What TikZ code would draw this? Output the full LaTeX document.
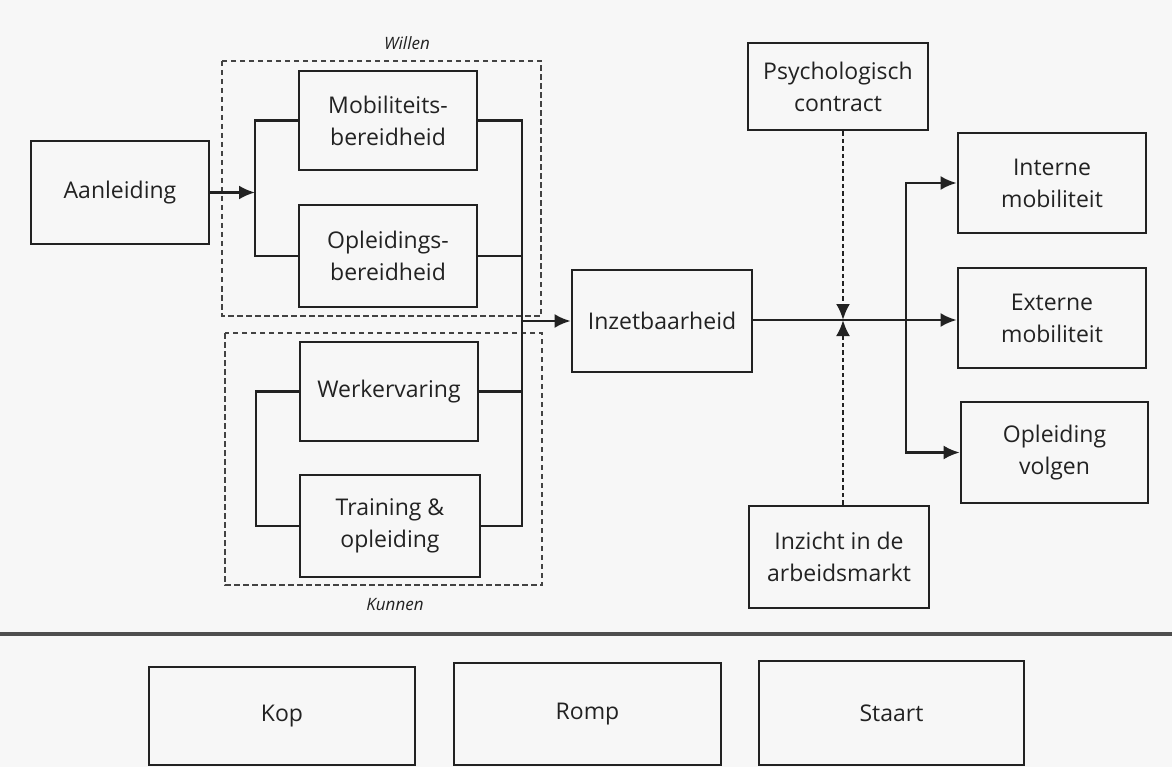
\documentclass[tikz,border=0pt]{standalone}
\usepackage{fontspec}
\setmainfont{Open Sans}
\usetikzlibrary{arrows.meta}
\definecolor{ink}{HTML}{222222}
\definecolor{paper}{HTML}{F7F7F7}
\begin{document}
\begin{tikzpicture}[x=1pt,y=-1pt,
  box/.style={draw=ink, line width=2.8pt, inner sep=0pt, align=center, text=ink,
    font=\fontsize{23}{32}\selectfont},
  grp/.style={draw=ink!85, line width=2pt, dash pattern=on 5.5pt off 3.5pt},
  link/.style={draw=ink, line width=2.5pt},
  arr/.style={link, -{Latex[length=16pt,width=14pt]}},
  darr/.style={arr, dash pattern=on 4.5pt off 3pt},
  lbl/.style={text=ink, font=\itshape\fontsize{17}{19}\selectfont}]

\fill[paper] (0,0) rectangle (1172,767);
\useasboundingbox (0,0) rectangle (1172,767);

% left column: trigger
\node[box, minimum width=178pt, minimum height=103pt] (aan) at (120,192.5) {Aanleiding};

% willingness group
\node[box, minimum width=178pt, minimum height=99pt]  (mob) at (388,120.5) {Mobiliteits-\\bereidheid};
\node[box, minimum width=178pt, minimum height=102pt] (opl) at (388,256) {Opleidings-\\bereidheid};
\draw[grp] (222,61) rectangle (541,316);
\node[lbl] (willen) at (407,43) {Willen};

% ability group
\node[box, minimum width=178pt, minimum height=99pt]  (werk)  at (389,391.5) {Werkervaring};
\node[box, minimum width=180pt, minimum height=102pt] (train) at (390,526) {Training \&\\opleiding};
\draw[grp] (225,333) rectangle (542,585);
\node[lbl] (kunnen) at (395,605) {Kunnen};

% centre
\node[box, minimum width=180pt, minimum height=102pt] (inzet)   at (662,321) {Inzetbaarheid};
\node[box, minimum width=180pt, minimum height=87pt]  (psych)   at (838,86.5) {Psychologisch\\contract};
\node[box, minimum width=180pt, minimum height=102pt] (inzicht) at (839,557) {Inzicht in de\\arbeidsmarkt};

% outcomes
\node[box, minimum width=188pt, minimum height=100pt] (intern) at (1052,183) {Interne\\mobiliteit};
\node[box, minimum width=188pt, minimum height=100pt] (extern) at (1052,318) {Externe\\mobiliteit};
\node[box, minimum width=187pt, minimum height=101pt] (oplv)   at (1054.5,452.5) {Opleiding\\volgen};

% bottom row
\node[box, minimum width=266pt, minimum height=98pt]  (kop)    at (282,716) {Kop};
\node[box, minimum width=267pt, minimum height=102pt] (romp)   at (587.5,714) {Romp};
\node[box, minimum width=265pt, minimum height=104pt] (staart) at (891.5,713) {Staart};

% helper coordinates for the bus lines
\coordinate (wl) at (255,0);
\coordinate (kl) at (256,0);
\coordinate (rj) at (522,0);
\coordinate (sp) at (906,0);
\coordinate (mid) at (843,320);
\coordinate (ruleL) at (0,634);
\coordinate (ruleR) at (1172,634);

% trigger into willingness
\draw[link] (mob.west) -- (mob.west -| wl) -- (opl.west -| wl) -- (opl.west);
\draw[arr] (aan.east) -- (aan.east -| wl);

% ability bracket
\draw[link] (werk.west) -- (werk.west -| kl) -- (train.west -| kl) -- (train.west);

% collector on the right of both groups
\draw[link] (mob.east) -- (mob.east -| rj) -- (train.east -| rj) -- (train.east);
\draw[link] (opl.east) -- (opl.east -| rj);
\draw[link] (werk.east) -- (werk.east -| rj);
\draw[arr] (inzet.west -| rj) -- (inzet.west);

% employability to outcomes
\draw[arr] (inzet.east |- mid) -- (mid -| extern.west);
\draw[arr] (mid -| sp) |- (intern.west);
\draw[arr] (mid -| sp) |- (oplv.west);

% moderators
\draw[darr] (psych.south -| mid) -- (mid);
\draw[darr] (inzicht.north -| mid) -- (mid);

% separator
\draw[draw=ink!80, line width=3.5pt] (ruleL) -- (ruleR);
\end{tikzpicture}
\end{document}
